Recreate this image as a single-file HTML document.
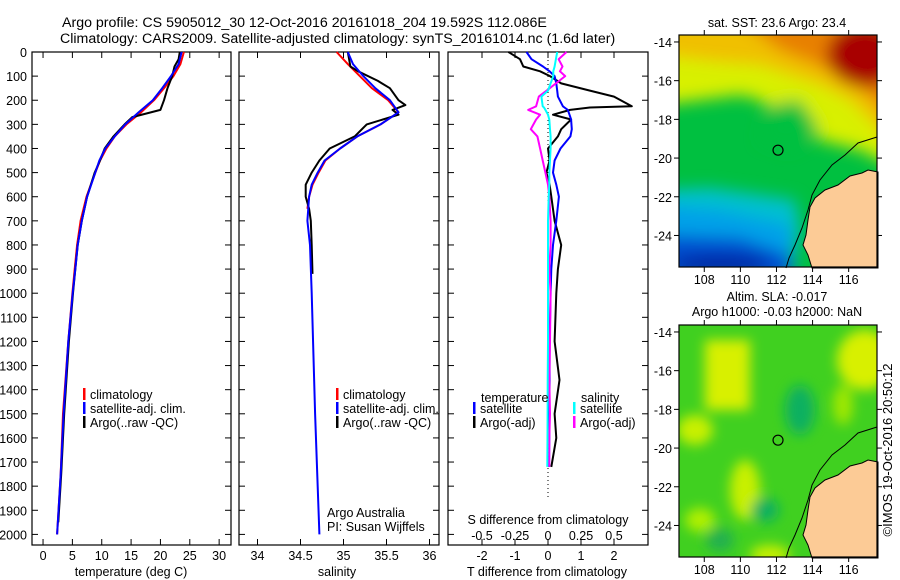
<!DOCTYPE html>
<html><head><meta charset="utf-8">
<style>
body{margin:0;background:#fff;}
svg{display:block;font-family:"Liberation Sans",sans-serif;}
text{fill:#000;}
</style></head>
<body>
<svg id="fig" width="900" height="580" viewBox="0 0 900 580">
<defs>
<filter id="blur8" x="-30%" y="-30%" width="160%" height="160%"><feGaussianBlur stdDeviation="8"/></filter>
<filter id="blur5" x="-30%" y="-30%" width="160%" height="160%"><feGaussianBlur stdDeviation="6"/></filter>
<clipPath id="clipMap1"><rect x="679" y="35" width="198" height="232"/></clipPath>
<clipPath id="clipMap2"><rect x="679" y="325" width="198" height="232"/></clipPath>
</defs>
<text x="62" y="27" font-size="14.2">Argo profile: CS 5905012_30 12-Oct-2016 20161018_204 19.592S 112.086E</text>
<text x="60" y="43" font-size="14.2">Climatology: CARS2009. Satellite-adjusted climatology: synTS_20161014.nc (1.6d later)</text>

<!-- SST map -->
<g clip-path="url(#clipMap1)">
<rect x="679" y="35" width="198" height="232" fill="#00c040"/>
<g filter="url(#blur8)">
<polygon points="660,20 900,20 900,170 860,150 820,140 800,125 780,120 760,100 740,95 700,100 660,105" fill="#d8f000"/>
<polygon points="660,20 900,20 900,170 880,130 850,100 820,85 790,75 760,65 720,62 660,55" fill="#f0c000"/>
<polygon points="740,20 900,20 900,140 880,105 850,80 810,62 780,50" fill="#e88000"/>
<ellipse cx="865" cy="55" rx="38" ry="32" fill="#a80000"/>
<polygon points="660,190 710,188 760,195 795,200 800,230 790,280 660,280" fill="#00c0d0"/>
<polygon points="660,205 720,210 790,225 795,280 660,280" fill="#00a0e8"/>
<polygon points="660,235 740,238 790,255 790,280 660,280" fill="#0050d0"/>
<ellipse cx="720" cy="264" rx="50" ry="9" fill="#0020a0"/>
<polygon points="770,105 800,100 820,130 790,150 760,140" fill="#00c040"/>
</g>
</g>
<!-- SLA map -->
<g clip-path="url(#clipMap2)">
<rect x="679" y="325" width="198" height="232" fill="#40d020"/>
<g filter="url(#blur5)">
<rect x="705" y="340" width="45" height="70" fill="#d8f000"/>
<ellipse cx="865" cy="360" rx="28" ry="30" fill="#d8f000"/>
<ellipse cx="745" cy="490" rx="15" ry="30" fill="#c8f000"/>
<ellipse cx="695" cy="430" rx="18" ry="15" fill="#c8f000"/>
<ellipse cx="770" cy="555" rx="20" ry="10" fill="#c8f000"/>
<ellipse cx="700" cy="520" rx="15" ry="12" fill="#b0f000"/>
<ellipse cx="800" cy="410" rx="15" ry="25" fill="#10b060"/>
<ellipse cx="765" cy="510" rx="14" ry="12" fill="#10b060"/>
<ellipse cx="720" cy="540" rx="14" ry="12" fill="#20b050"/>
<ellipse cx="843" cy="405" rx="10" ry="20" fill="#a0e800"/>
</g>
</g>
<g id="layer"></g>
<text transform="translate(892,450) rotate(-90)" text-anchor="middle" font-size="13">©IMOS 19-Oct-2016 20:50:12</text>
</svg>
<script>
// ---------- data ----------
const tempClimDepth = [0,50,100,150,200,250,300,350,400,450,500,600,700,800,900,1000,1200,1500,1750,2000];
const tempClimVals  = [24.0,23.4,22.2,20.6,18.9,16.7,14.2,12.2,10.8,9.7,8.9,7.4,6.4,5.8,5.4,5.0,4.3,3.4,3.0,2.4];
const tempSatVals   = [23.6,23.1,21.8,20.3,18.7,16.3,14.0,12.2,10.6,9.6,8.9,7.5,6.6,5.9,5.5,5.05,4.3,3.5,3.0,2.4];
const tempArgoDepth = [0,30,60,100,150,200,240,255,270,300,350,400,450,500,600,700,800,900,1000,1200,1500,1750,1950];
const tempArgoVals  = [23.3,23.1,22.4,22.0,21.2,20.6,20.0,17.6,15.2,13.9,12.0,10.5,9.7,8.8,7.5,6.6,5.9,5.5,5.1,4.4,3.6,3.1,2.6];

const salClimDepth = [0,50,100,150,200,250,300,350,400,450,500,550,600,650];
const salClimVals  = [34.92,35.05,35.19,35.33,35.52,35.64,35.43,35.16,34.96,34.79,34.71,34.64,34.60,34.58];
const salSatDepth = [0,50,100,150,200,250,300,350,400,450,500,550,600,700,800,1000,1500,2000];
const salSatVals  = [35.05,35.11,35.23,35.37,35.54,35.64,35.43,35.16,34.96,34.78,34.70,34.63,34.60,34.58,34.61,34.63,34.67,34.72];
const salArgoDepth = [0,60,80,120,150,200,220,240,260,300,350,400,450,500,550,600,650,700,800,920];
const salArgoVals  = [35.05,35.08,35.17,35.40,35.54,35.64,35.72,35.57,35.64,35.27,35.13,34.84,34.72,34.63,34.56,34.56,34.60,34.62,34.63,34.64];

const diffDepth = [0,30,60,80,100,130,160,185,225,230,240,260,280,320,350,400,450,500,550,600,700,800,900,1000,1200,1360,1500,1600,1720];
const tDiffArgo = [-1.2,-0.85,-0.75,-0.24,0.06,0.4,1.27,2.0,2.54,1.27,0.67,0.15,0.7,0.4,0.3,0.0,0.05,-0.05,0.05,0.1,0.2,0.4,0.3,0.25,0.2,0.35,0.2,0.25,0.1];
const tDiffSat  = [-0.65,-0.5,-0.15,0.05,0.2,0.25,0.28,0.3,0.45,0.5,0.6,0.65,0.7,0.72,0.68,0.38,0.2,0.15,0.25,0.33,0.25,0.15,0.1,0.08,0.05,0.05,0.04,0.04,0.03];
const sDiffSat  = [0.07,0.06,0.05,0.04,0.04,0.02,0.0,-0.05,-0.04,-0.03,-0.02,0.0,0.01,0.015,0.02,0.02,0.015,0.01,0.01,0.005,0.0,0.0,0.0,0.0,0.0,-0.002,-0.003,-0.004,-0.005];
const sDiffArgo = [0.14,0.08,0.11,0.09,0.13,0.06,-0.01,-0.07,-0.09,-0.11,-0.15,-0.06,-0.09,-0.13,-0.08,-0.06,-0.04,-0.02,0.0,0.01,0.02,0.02,0.01,0.02,0.015,0.01,0.015,0.01,0.01];

const depthTicks = [0,100,200,300,400,500,600,700,800,900,1000,1100,1200,1300,1400,1500,1600,1700,1800,1900,2000];
const tempTicks = [0,5,10,15,20,25,30];
const salTicks = [34,34.5,35,35.5,36];
const tDiffTicks = [-2,-1,0,1,2];
const sDiffTicks = [-0.5,-0.25,0,0.25,0.5];
const lonTicks = [108,110,112,114,116];
const latTicks = [-14,-16,-18,-20,-22,-24];
const argoPos = [112.086,-19.592];

// ---------- scales ----------
const TOP=52, BOT=545;
const yD = d => TOP + d*0.2412;
const xT = t => 31.3 + (t+2)*5.87;
const xS = s => 257.5 + (s-34)*86;
const xTD = t => 548 + t*33;
const xSD = s => 548 + s*132;
const mx = lon => 679 + (lon-106.6)*18.05;
const myA = lat => 35 + (-13.64-lat)*19.35;
const myB = lat => 325 + (-13.64-lat)*19.35;

const NS='http://www.w3.org/2000/svg';
const layer=document.getElementById('layer');
function mk(tag,attrs,parent){const e=document.createElementNS(NS,tag);for(const k in attrs)e.setAttribute(k,attrs[k]);(parent||layer).appendChild(e);return e;}
function txt(x,y,s,size,anchor,parent){const e=mk('text',{x:x,y:y,'font-size':size,'text-anchor':anchor||'start'},parent);e.textContent=s;return e;}
function line(xs,ys,xf,color,w,name){
  const pts=xs.map((v,i)=>xf(v).toFixed(1)+','+yD(ys[i]).toFixed(1)).join(' ');
  const p=mk('polyline',{points:pts,fill:'none',stroke:color,'stroke-width':w,'stroke-linejoin':'round'});
  
  
}

// panels
const panels=[[32,231,'temperature-panel'],[239,439,'salinity-panel'],[448,648,'difference-panel']];
panels.forEach(([l,r,n])=>{
  const g=mk('rect',{x:l,y:TOP,width:r-l,height:BOT-TOP,fill:'none',stroke:'#000','stroke-width':1.2});
  
  
  depthTicks.forEach(d=>{mk('line',{x1:l,x2:l+6,y1:yD(d),y2:yD(d),stroke:'#000'});mk('line',{x1:r,x2:r-6,y1:yD(d),y2:yD(d),stroke:'#000'});});
});
depthTicks.forEach(d=>{const t=txt(27,yD(d)+5,String(d),12.5,'end');
  
  });
function xticks(ticks,f,labelY){ticks.forEach(v=>{const x=f(v);
  mk('line',{x1:x,x2:x,y1:BOT,y2:BOT-6,stroke:'#000'});mk('line',{x1:x,x2:x,y1:TOP,y2:TOP+6,stroke:'#000'});
  const t=txt(x,labelY,String(v),12.5,'middle');
  
  });}
xticks(tempTicks,xT,560);
xticks(salTicks,xS,560);
xticks(tDiffTicks,xTD,560);
sDiffTicks.forEach(v=>{const t=txt(xSD(v),540,String(v),12.5,'middle');
  
  });
[['temperature (deg C)',131],['salinity',337],['T difference from climatology',547]].forEach(([s,x])=>{const t=txt(x,576,s,12.5,'middle');
  
  });
const sdt=txt(548,524,'S difference from climatology',12.5,'middle');



// series
line(tempClimVals,tempClimDepth,xT,'#f00',2,'temp-climatology-line');
line(tempArgoVals,tempArgoDepth,xT,'#000',2,'temp-argo-line');
line(tempSatVals,tempClimDepth,xT,'#00f',2,'temp-satellite-line');
line(salClimVals,salClimDepth,xS,'#f00',2,'sal-climatology-line');
line(salArgoVals,salArgoDepth,xS,'#000',2,'sal-argo-line');
line(salSatVals,salSatDepth,xS,'#00f',2,'sal-satellite-line');
mk('line',{x1:xTD(0),x2:xTD(0),y1:TOP,y2:BOT-45,stroke:'#000','stroke-dasharray':'1,3'});
line(tDiffArgo,diffDepth,xTD,'#000',2,'t-diff-argo-line');
line(tDiffSat,diffDepth,xTD,'#00f',2,'t-diff-satellite-line');
line(sDiffArgo,diffDepth,xSD,'#f0f',2,'s-diff-argo-line');
line(sDiffSat,diffDepth,xSD,'#0ff',2,'s-diff-satellite-line');

// legends
function leg(x,y,color,label,name){mk('rect',{x:x,y:y-10,width:2.5,height:12,fill:color});const t=txt(x+7,y+1,label,12.5);
  
  }
[[83,'temp'],[336,'sal']].forEach(([x,p])=>{
  leg(x,398,'#f00','climatology',p+'-legend-climatology');
  leg(x,412,'#00f','satellite-adj. clim.',p+'-legend-satellite');
  leg(x,426,'#000','Argo(..raw -QC)',p+'-legend-argo');
});
txt(481,402,'temperature',12.5);
leg(473,412,'#00f','satellite','diff-legend-t-satellite');
leg(473,426,'#000','Argo(-adj)','diff-legend-t-argo');
txt(581,402,'salinity',12.5);
leg(573,412,'#0ff','satellite','diff-legend-s-satellite');
leg(573,426,'#f0f','Argo(-adj)','diff-legend-s-argo');
const cr1=txt(327,517,'Argo Australia',12.5);


const cr2=txt(327,531,'PI: Susan Wijffels',12.5);



// maps
function mapFrame(my,top,name){
  const L=679,R=877,B=top+232;
  const land=mk('polygon',{points:[[878,172],[868,170],[862,173],[850,176],[838,185],[825,190],[815,198],[810,207],[808,220],[806,235],[803,245],[808,255],[812,268],[878,268]].map(p=>p[0]+','+(p[1]-35+top)).join(' '),fill:'#fccb96',stroke:'#000','stroke-width':1});
  
  
  mk('polyline',{points:[[877,137],[858,143],[845,155],[832,165],[820,180],[812,195],[808,210],[802,228],[795,245],[789,258],[786,268]].map(p=>p[0]+','+(p[1]-35+top)).join(' '),fill:'none',stroke:'#000','stroke-width':1});
  const fr=mk('rect',{x:L,y:top,width:R-L,height:232,fill:'none',stroke:'#000','stroke-width':1.2});
  
  
  lonTicks.forEach(v=>{const x=mx(v);mk('line',{x1:x,x2:x,y1:B,y2:B+5,stroke:'#000'});mk('line',{x1:x,x2:x,y1:top,y2:top-5,stroke:'#000'});
    const t=txt(x,B+17,String(v),12.5,'middle');
    
    });
  latTicks.forEach(v=>{const y=my(v);mk('line',{x1:L,x2:L-5,y1:y,y2:y,stroke:'#000'});mk('line',{x1:R,x2:R+5,y1:y,y2:y,stroke:'#000'});
    const t=txt(672,y+5,String(v),12.5,'end');
    
    });
  const c=mk('circle',{cx:mx(argoPos[0]),cy:my(argoPos[1]),r:5,fill:'none',stroke:'#000','stroke-width':1.2});
  
  
}
mapFrame(myA,35,'sst-map');
mapFrame(myB,325,'sla-map');
const m1=txt(777,27,'sat. SST: 23.6 Argo: 23.4',12.5,'middle');


const m2=txt(777,301,'Altim. SLA: -0.017',12.5,'middle');


const m3=txt(777,316,'Argo h1000: -0.03 h2000: NaN',12.5,'middle');


</script>
</body></html>
